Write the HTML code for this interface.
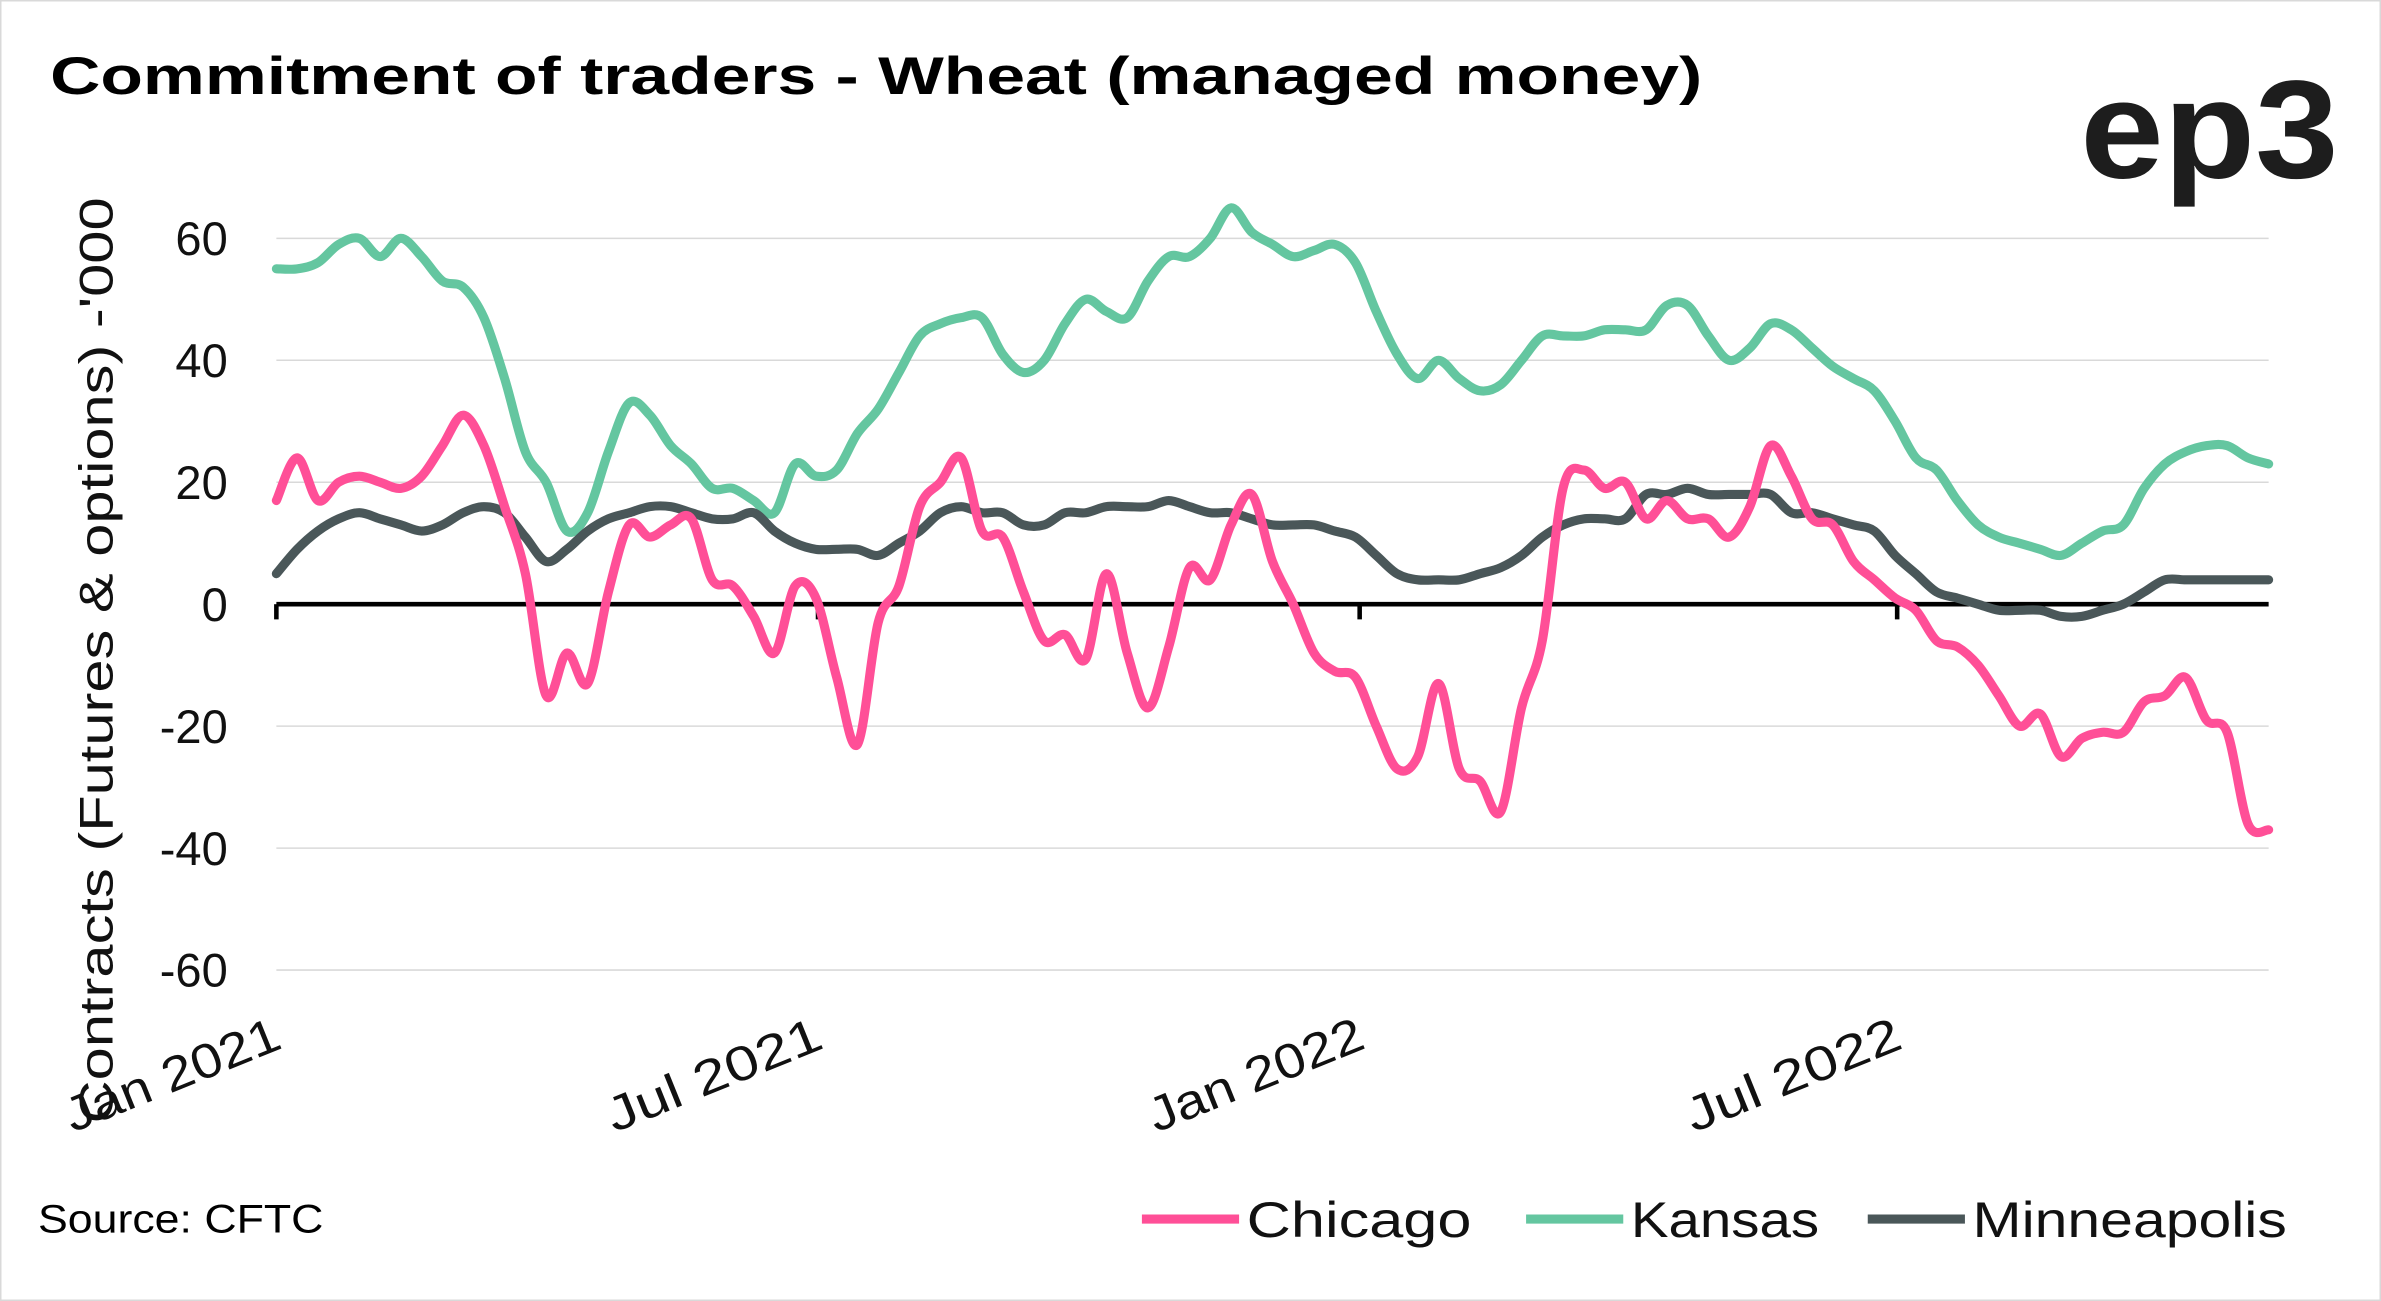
<!DOCTYPE html>
<html><head><meta charset="utf-8"><style>
html,body{margin:0;padding:0;background:#fff;}
svg{display:block;}
text{font-family:"Liberation Sans",sans-serif;}
</style></head><body>
<svg id="chart" width="2381" height="1301" viewBox="0 0 1568 857" preserveAspectRatio="none" xmlns="http://www.w3.org/2000/svg">
<rect x="0.5" y="0.5" width="1567" height="856" fill="#fff" stroke="#d9d9d9"/>
<text x="33" y="62" font-size="35" font-weight="bold" fill="#000" textLength="1088" lengthAdjust="spacingAndGlyphs">Commitment of traders - Wheat (managed money)</text>
<text x="1370" y="117" font-size="92" font-weight="bold" fill="#1d1d1d" textLength="170" lengthAdjust="spacingAndGlyphs">ep3</text>
<g id="grid"></g>
<g id="yticks"></g>
<g id="xticks"></g>
<text transform="translate(74,435) rotate(-90)" text-anchor="middle" font-size="31" fill="#111" textLength="610" lengthAdjust="spacingAndGlyphs">Contracts (Futures &amp; options) -'000</text>
<g id="series"></g>
<text x="25" y="812" font-size="26" fill="#000" textLength="188" lengthAdjust="spacingAndGlyphs">Source: CFTC</text>
<g id="legend"></g>
</svg>
<script>
const categoriesStart = "2021-01-05";
const yTicks = [60, 40, 20, 0, -20, -40, -60];
const xTickLabels = ["Jan 2021", "Jul 2021", "Jan 2022", "Jul 2022"];
const xTickWeeks = [0, 26.1, 52.2, 78.1];
const chicago = [17,24,17,20,21,20,19,21,26,31,26,16,5,-15,-8,-13,2,13,11,13,14,4,3,-2,-8,3,1,-12,-23,-3,3,16,20,24,12,11,2,-6,-5,-9,5,-8,-17,-7,6,4,13,18,7,0,-8,-11,-12,-20,-27,-25,-13,-27,-29,-34,-17,-6,19,22,19,20,14,17,14,14,11,16,26,21,14,13,7,4,1,-1,-6,-7,-10,-15,-20,-18,-25,-22,-21,-21,-16,-15,-12,-19,-21,-36,-37];
const kansas = [55,55,56,59,60,57,60,57,53,52,47,37,25,20,12,15,25,33,31,26,23,19,19,17,15,23,21,22,28,32,38,44,46,47,47,41,38,40,46,50,48,47,53,57,57,60,65,61,59,57,58,59,56,48,41,37,40,37,35,36,40,44,44,44,45,45,45,49,49,44,40,42,46,45,42,39,37,35,30,24,22,17,13,11,10,9,8,10,12,13,19,23,25,26,26,24,23];
const minneapolis = [5,9,12,14,15,14,13,12,13,15,16,15,11,7,9,12,14,15,16,16,15,14,14,15,12,10,9,9,9,8,10,12,15,16,15,15,13,13,15,15,16,16,16,17,16,15,15,14,13,13,13,12,11,8,5,4,4,4,5,6,8,11,13,14,14,14,18,18,19,18,18,18,18,15,15,14,13,12,8,5,2,1,0,-1,-1,-1,-2,-2,-1,0,2,4,4,4,4,4,4];
const seriesNames = ["Chicago", "Kansas", "Minneapolis"];
const seriesColors = ["#ff4f97", "#64c6a0", "#4a5759"];

const NS = "http://www.w3.org/2000/svg";
const x0 = 182, x1 = 1494, nWeeks = 96;
const xScale = w => x0 + (x1 - x0) * w / nWeeks;
const yScale = v => 398 - v * (241 / 60);
function mk(tag, attrs, parent) { const e = document.createElementNS(NS, tag); for (const k in attrs) e.setAttribute(k, attrs[k]); parent.appendChild(e); return e; }

const grid = document.getElementById('grid');
const yt = document.getElementById('yticks');
yTicks.forEach(v => {
  const l = mk('line', {x1: x0, x2: x1, y1: yScale(v), y2: yScale(v), stroke: v === 0 ? '#000' : '#d9d9d9', 'stroke-width': v === 0 ? 3 : 1}, grid);
  
  
  const t = mk('text', {x: 150, y: yScale(v) + 11, 'text-anchor': 'end', 'font-size': 31, fill: '#111'}, yt);
  t.textContent = v;
  
  
});
const xt = document.getElementById('xticks');
xTickLabels.forEach((lab, i) => {
  const x = xScale(xTickWeeks[i]);
  const tk = mk('line', {x1: x, x2: x, y1: 398, y2: 408, stroke: '#000', 'stroke-width': 3}, xt);
  
  
  const t = mk('text', {'text-anchor': 'end', 'font-size': 32, fill: '#111', textLength: 150, lengthAdjust: 'spacingAndGlyphs', transform: `translate(${x+5},${690}) rotate(-22)`}, xt);
  t.textContent = lab;
  
  
});

function smoothPath(pts) {
  let d = `M${pts[0][0]},${pts[0][1]}`;
  for (let i = 0; i < pts.length - 1; i++) {
    const p0 = pts[i-1] || pts[i], p1 = pts[i], p2 = pts[i+1], p3 = pts[i+2] || p2;
    const c1 = [p1[0] + (p2[0]-p0[0])/6, p1[1] + (p2[1]-p0[1])/6];
    const c2 = [p2[0] - (p3[0]-p1[0])/6, p2[1] - (p3[1]-p1[1])/6];
    d += ` C${c1[0]},${c1[1]} ${c2[0]},${c2[1]} ${p2[0]},${p2[1]}`;
  }
  return d;
}
const sg = document.getElementById('series');
[kansas, minneapolis, chicago].forEach(arr => {
  const idx = arr === chicago ? 0 : arr === kansas ? 1 : 2;
  const pts = arr.map((v, i) => [xScale(i), yScale(v)]);
  const p = mk('path', {d: smoothPath(pts), fill: 'none', stroke: seriesColors[idx], 'stroke-width': 6, 'stroke-linejoin': 'round', 'stroke-linecap': 'round'}, sg);
  
  
});

const lg = document.getElementById('legend');
const lx = [752, 1005, 1230];
const lw = [148, 124, 207];
seriesNames.forEach((n, i) => {
  const g = mk('g', {}, lg);
  
  
  mk('line', {x1: lx[i], x2: lx[i] + 64, y1: 803, y2: 803, stroke: seriesColors[i], 'stroke-width': 6}, g);
  const t = mk('text', {x: lx[i] + 69, y: 815, 'font-size': 33, fill: '#111', textLength: lw[i], lengthAdjust: 'spacingAndGlyphs'}, g);
  t.textContent = n;
});
</script>
</body></html>
